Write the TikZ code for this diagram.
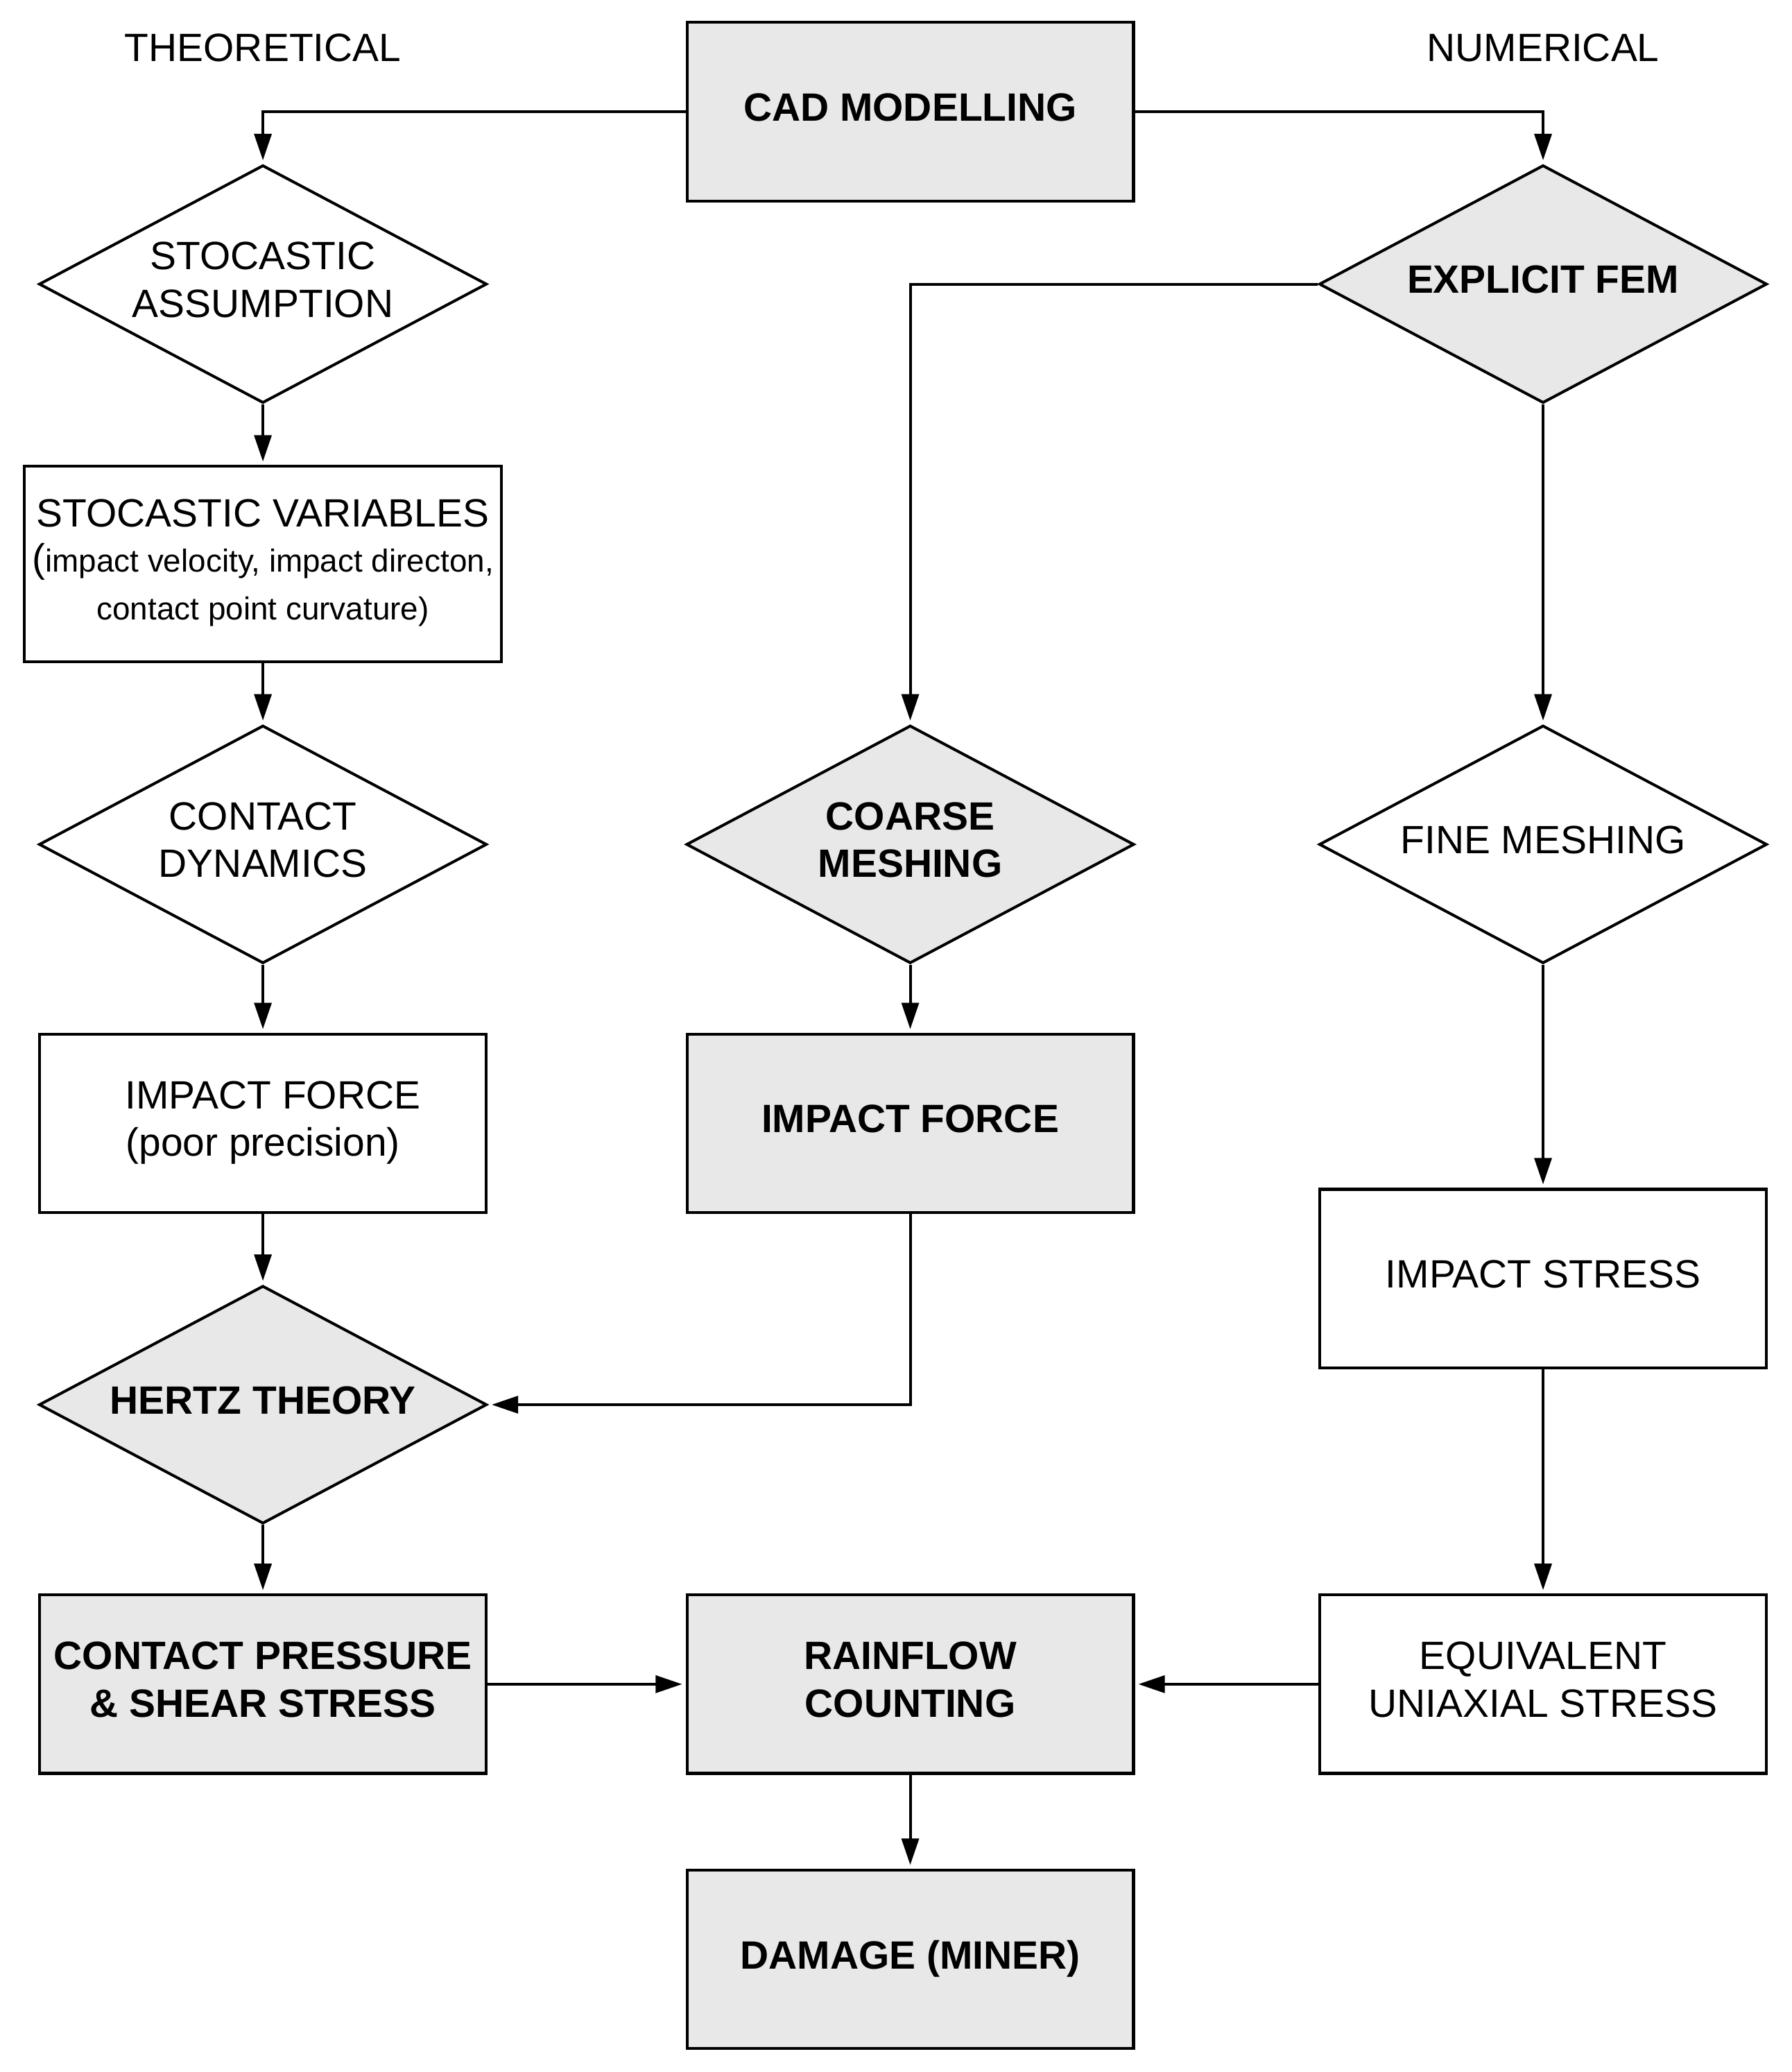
\documentclass[tikz,border=0pt]{standalone}
\usepackage{fontspec}
\setmainfont{Liberation Sans}
\usetikzlibrary{arrows.meta,shapes.geometric}
\definecolor{boxgray}{HTML}{E8E8E8}
\newcommand{\mainsize}{\fontsize{17}{20.5}\selectfont}
\newcommand{\smallsize}{\fontsize{13.7}{19.8}\selectfont}
\tikzset{
	box/.style={draw, line width=1.2pt, minimum width=6.76cm, minimum height=2.7cm, align=center, inner sep=2pt, text depth=0.14cm, font=\mainsize},
	dia/.style={draw, diamond, aspect=1.88, line width=1.2pt, minimum width=6.78cm, minimum height=3.6cm, inner sep=0pt, align=center, text depth=0.14cm, font=\mainsize},
	shaded/.style={fill=boxgray, font=\mainsize\bfseries},
	arr/.style={line width=1.2pt, shorten >=1.5pt, -{Triangle[length=4mm,width=2.6mm]}},
}

\begin{document}
\begin{tikzpicture}
			%%%%% START %%%%%
			\useasboundingbox (0, 0) rectangle (27.12, -31.36);
			
			\node[font=\mainsize] (theo) at (3.98, -0.72) {THEORETICAL};
			\node[font=\mainsize] (numer) at (23.36, -0.72) {NUMERICAL};
			
			\node[box, shaded] (cad) at (13.78, -1.69) {CAD MODELLING};
			
			\node[dia] (stocass) at (3.98, -4.30) {STOCASTIC\\ASSUMPTION};
			\node[dia, shaded] (expfem) at (23.36, -4.30) {EXPLICIT FEM};
			
			\node[box, minimum width=7.22cm, minimum height=2.96cm] (stocvar) at (3.98, -8.54)
				{STOCASTIC VARIABLES\\[-1pt]({\smallsize impact velocity, impact directon,}\\{\smallsize contact point curvature)}};
			
			\node[dia] (contdyn) at (3.98, -12.78) {CONTACT\\DYNAMICS};
			\node[dia, shaded] (coarse) at (13.78, -12.78) {COARSE\\MESHING};
			\node[dia] (fine) at (23.36, -12.78) {FINE MESHING};
			
			\node[box] (forcep) at (3.98, -17.00) {\hspace*{0.3cm}IMPACT FORCE\\(poor precision)};
			\node[box, shaded] (forceb) at (13.78, -17.00) {IMPACT FORCE};
			\node[box] (stress) at (23.36, -19.35) {IMPACT STRESS};
			
			\node[dia, shaded] (hertz) at (3.98, -21.26) {HERTZ THEORY};
			
			\node[box, shaded] (press) at (3.98, -25.49) {CONTACT PRESSURE\\\& SHEAR STRESS};
			\node[box, shaded] (rain) at (13.78, -25.49) {RAINFLOW\\COUNTING};
			\node[box] (equiv) at (23.36, -25.49) {EQUIVALENT\\UNIAXIAL STRESS};
			
			\node[box, shaded] (damage) at (13.78, -29.65) {DAMAGE (MINER)};
			
			% theoretical branch
			\draw[arr] (cad.west) -| (stocass.north);
			\draw[arr] (stocass.south) -- (stocvar.north);
			\draw[arr] (stocvar.south) -- (contdyn.north);
			\draw[arr] (contdyn.south) -- (forcep.north);
			\draw[arr] (forcep.south) -- (hertz.north);
			\draw[arr] (hertz.south) -- (press.north);
			
			% numerical branch
			\draw[arr] (cad.east) -| (expfem.north);
			\draw[arr] (expfem.west) -| (coarse.north);
			\draw[arr] (coarse.south) -- (forceb.north);
			\draw[arr] (forceb.south) |- (hertz.east);
			\draw[arr] (expfem.south) -- (fine.north);
			\draw[arr] (fine.south) -- (stress.north);
			\draw[arr] (stress.south) -- (equiv.north);
			
			\draw[arr] (press.east) -- (rain.west);
			\draw[arr] (equiv.west) -- (rain.east);
			\draw[arr] (rain.south) -- (damage.north);
			
			%%%%% END %%%%%
		\end{tikzpicture}
\end{document}
